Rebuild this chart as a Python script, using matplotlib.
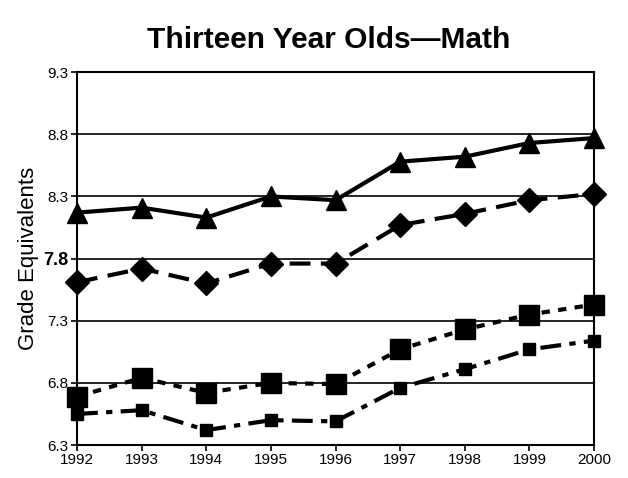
import matplotlib.pyplot as plt

plt.rcParams['font.family'] = ['Liberation Sans', 'DejaVu Sans']

years = [1992, 1993, 1994, 1995, 1996, 1997, 1998, 1999, 2000]
triangles = [8.17, 8.21, 8.13, 8.30, 8.27, 8.58, 8.62, 8.73, 8.77]
diamonds = [7.61, 7.72, 7.60, 7.76, 7.76, 8.07, 8.16, 8.27, 8.32]
big_squares = [6.69, 6.84, 6.72, 6.80, 6.79, 7.07, 7.23, 7.35, 7.43]
small_squares = [6.55, 6.58, 6.42, 6.50, 6.49, 6.76, 6.91, 7.07, 7.14]
yticks = [6.3, 6.8, 7.3, 7.8, 8.3, 8.8, 9.3]

fig = plt.figure(figsize=(6.28, 4.78), dpi=100)
ax = fig.add_axes([0.1226, 0.069, 0.8234, 0.780])

# horizontal grid lines
for y in yticks:
    ax.axhline(y, color='black', lw=1.2, zorder=1)

ax.plot(years, triangles, color='black', lw=3, marker='^', ms=15, zorder=3, clip_on=False)
ax.plot(years, diamonds, color='black', lw=3, ls=(0, (5, 2.5)), marker='D', ms=12, zorder=3, clip_on=False)
ax.plot(years, big_squares, color='black', lw=3, ls=(0, (2, 2)), marker='s', ms=15, zorder=3, clip_on=False)
ax.plot(years, small_squares, color='black', lw=3, ls=(0, (5, 2, 1.5, 2)), marker='s', ms=9, zorder=3, clip_on=False)

ax.set_xlim(1992, 2000)
ax.set_ylim(6.3, 9.3)
ax.set_xticks(years)
ax.set_xticklabels([str(y) for y in years], fontsize=11)
ax.set_yticks(yticks)
ax.set_yticklabels([f'{y:.1f}' for y in yticks], fontsize=11)
# the 7.8 label is printed larger and bold in the original
lab = ax.get_yticklabels()[3]
lab.set_fontsize(13)
lab.set_fontweight('bold')
ax.tick_params(direction='out', length=4, width=1.2, color='black', pad=2)
for s in ax.spines.values():
    s.set_linewidth(1.5)
    s.set_color('black')

ax.set_ylabel('Grade Equivalents', fontsize=16, labelpad=2)
ax.yaxis.set_label_coords(-0.074, 0.5)
fig.text(0.523, 0.916, 'Thirteen Year Olds—Math', fontsize=21.5, fontweight='bold',
         ha='center', va='center')

fig.savefig('out.png', dpi=100)
